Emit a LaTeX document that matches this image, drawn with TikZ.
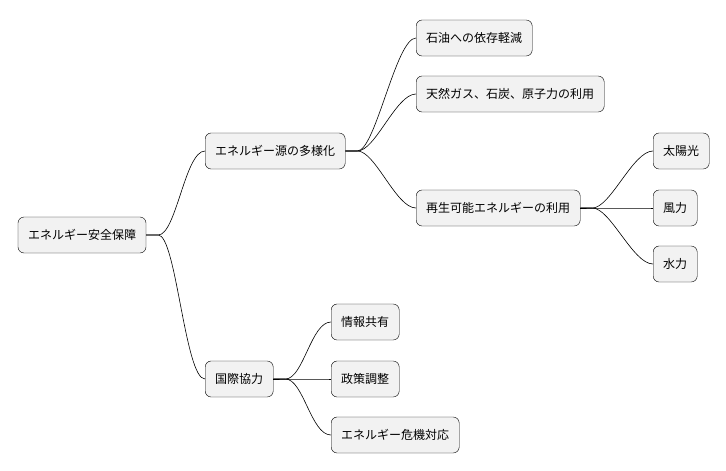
\documentclass[tikz,border=0pt]{standalone}
\usepackage{fontspec}
\setmainfont{Noto Sans CJK JP}
\usetikzlibrary{positioning}
\tikzset{
    topic/.style={draw,fill=gray!10,rounded corners=6pt,minimum height=36pt,inner xsep=10pt,font=\fontsize{12}{14}\selectfont},
    branch/.style={line width=0.6pt}
}
\begin{document}
\begin{tikzpicture}[x=1pt,y=-1pt]
    \useasboundingbox (0,0) rectangle (726,471);
    % Root and first level
    \node[topic] (root) at (82,235) {エネルギー安全保障};
    \node[topic,anchor=west] (div) at (205,151) {エネルギー源の多様化};
    \node[topic,anchor=west] (intl) at (205,379) {国際協力};

    % Diversification
    \node[topic,anchor=west] (oil) at (416,38) {石油への依存軽減};
    \node[topic,anchor=west] (gas) at (416,94) {天然ガス、石炭、原子力の利用};
    \node[topic,anchor=west] (renew) at (416,208) {再生可能エネルギーの利用};
    \node[topic,anchor=west] (sun) at (653,151) {太陽光};
    \node[topic,anchor=west] (wind) at (653,208) {風力};
    \node[topic,anchor=west] (water) at (653,264) {水力};

    % Cooperation
    \node[topic,anchor=west] (info) at (331,322) {情報共有};
    \node[topic,anchor=west] (policy) at (331,379) {政策調整};
    \node[topic,anchor=west] (crisis) at (331,435) {エネルギー危機対応};

    % Connectors
    \foreach \p/\c in {root/div,root/intl,div/oil,div/gas,div/renew,renew/sun,renew/wind,renew/water,intl/info,intl/policy,intl/crisis}
        \draw[branch] (\p.east) -- ++(12,0) .. controls +(18,0) and +(-20,0) .. (\c.west);
\end{tikzpicture}
\end{document}
